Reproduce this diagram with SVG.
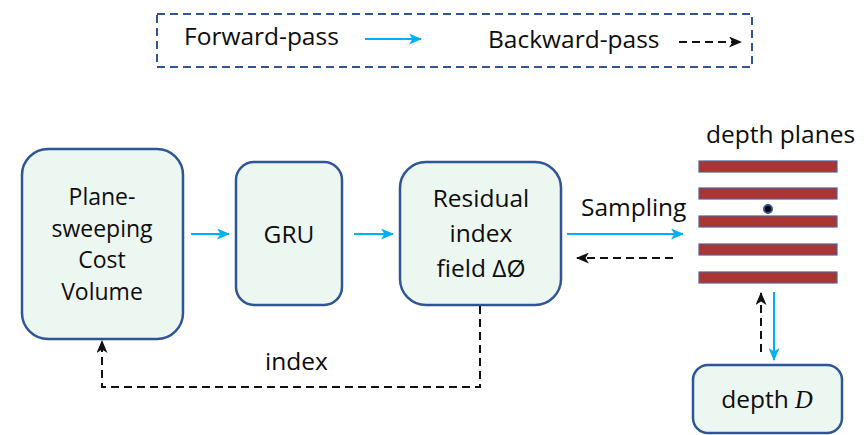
<svg xmlns="http://www.w3.org/2000/svg" width="866" height="435" viewBox="0 0 866 435">
  <style>
    .lbl { font-family: "Open Sans", "Liberation Sans", sans-serif; font-size: 24.5px; fill: #0d0d0d; }
    .node rect.box { fill: #edf7f1; stroke: #2f5597; stroke-width: 2.5; }
    .fwd { stroke: #00b0f0; stroke-width: 2; fill: none; }
    .bwd { stroke: #111; stroke-width: 2; stroke-dasharray: 8 5; fill: none; }
    .plane { fill: #ab3535; stroke: #55608f; stroke-width: 1.2; }
  </style>
  <defs>
    <marker id="ahBlue" viewBox="0 0 13 11" refX="12" refY="5.5" markerWidth="13" markerHeight="11" markerUnits="userSpaceOnUse" orient="auto">
      <path d="M0,0 L13,5.5 L0,11 L3.5,5.5 Z" fill="#00b0f0"/>
    </marker>
    <marker id="ahBlack" viewBox="0 0 13 11" refX="12" refY="5.5" markerWidth="13" markerHeight="11" markerUnits="userSpaceOnUse" orient="auto">
      <path d="M0,0 L13,5.5 L0,11 L3.5,5.5 Z" fill="#111"/>
    </marker>
  </defs>

  <!-- legend -->
  <g id="legend">
    <rect x="157" y="14" width="595" height="53" fill="none" stroke="#2f5597" stroke-width="2" stroke-dasharray="8 5"/>
    <text class="lbl" x="184" y="45">Forward-pass</text>
    <line class="fwd" x1="365" y1="39" x2="421" y2="39" marker-end="url(#ahBlue)"/>
    <text class="lbl" x="488" y="48">Backward-pass</text>
    <line class="bwd" x1="679" y1="42" x2="741" y2="42" marker-end="url(#ahBlack)"/>
  </g>

  <!-- nodes -->
  <g id="costVolume" class="node">
    <rect class="box" x="22" y="149" width="161" height="190" rx="26"/>
    <text class="lbl" text-anchor="middle" x="102" y="205" style="font-size:23px">Plane-</text>
    <text class="lbl" text-anchor="middle" x="102" y="237" style="font-size:23px">sweeping</text>
    <text class="lbl" text-anchor="middle" x="102" y="268" style="font-size:23px">Cost</text>
    <text class="lbl" text-anchor="middle" x="102" y="300" style="font-size:23px">Volume</text>
  </g>

  <g id="gru" class="node">
    <rect class="box" x="236" y="162" width="106" height="143" rx="18"/>
    <text class="lbl" text-anchor="middle" x="289" y="243">GRU</text>
  </g>

  <g id="residual" class="node">
    <rect class="box" x="400" y="162" width="161" height="143" rx="26"/>
    <text class="lbl" text-anchor="middle" x="481" y="207">Residual</text>
    <text class="lbl" text-anchor="middle" x="481" y="242">index</text>
    <text class="lbl" text-anchor="middle" x="481" y="277">field ΔØ</text>
  </g>

  <g id="depthPlanes">
    <text class="lbl" x="706" y="143">depth planes</text>
    <rect class="plane" x="699" y="161" width="138" height="11"/>
    <rect class="plane" x="699" y="188" width="138" height="11"/>
    <rect class="plane" x="699" y="216" width="138" height="11"/>
    <rect class="plane" x="699" y="244" width="138" height="11"/>
    <rect class="plane" x="699" y="272" width="138" height="11"/>
    <circle cx="768" cy="209" r="4" fill="#000" stroke="#2f5597" stroke-width="2"/>
  </g>

  <g id="depth" class="node">
    <rect class="box" x="693" y="365" width="149" height="68" rx="15"/>
    <text class="lbl" text-anchor="middle" x="767" y="408">depth <tspan style="font-family:'Liberation Serif','DejaVu Serif',serif;font-style:italic">D</tspan></text>
  </g>

  <!-- connectors -->
  <g id="connectors">
    <line class="fwd" x1="191" y1="234" x2="229" y2="234" marker-end="url(#ahBlue)"/>
    <line class="fwd" x1="354" y1="234" x2="393" y2="234" marker-end="url(#ahBlue)"/>
    <text class="lbl" x="581" y="216">Sampling</text>
    <line class="fwd" x1="567" y1="234" x2="683" y2="234" marker-end="url(#ahBlue)"/>
    <line class="bwd" x1="673" y1="258" x2="577" y2="258" marker-end="url(#ahBlack)"/>
    <path class="bwd" d="M480,306 V387 H102 V341" marker-end="url(#ahBlack)"/>
    <text class="lbl" x="265" y="370">index</text>
    <line class="bwd" x1="761" y1="352" x2="761" y2="293" marker-end="url(#ahBlack)"/>
    <line class="fwd" x1="774" y1="292" x2="774" y2="360" marker-end="url(#ahBlue)"/>
  </g>
</svg>
